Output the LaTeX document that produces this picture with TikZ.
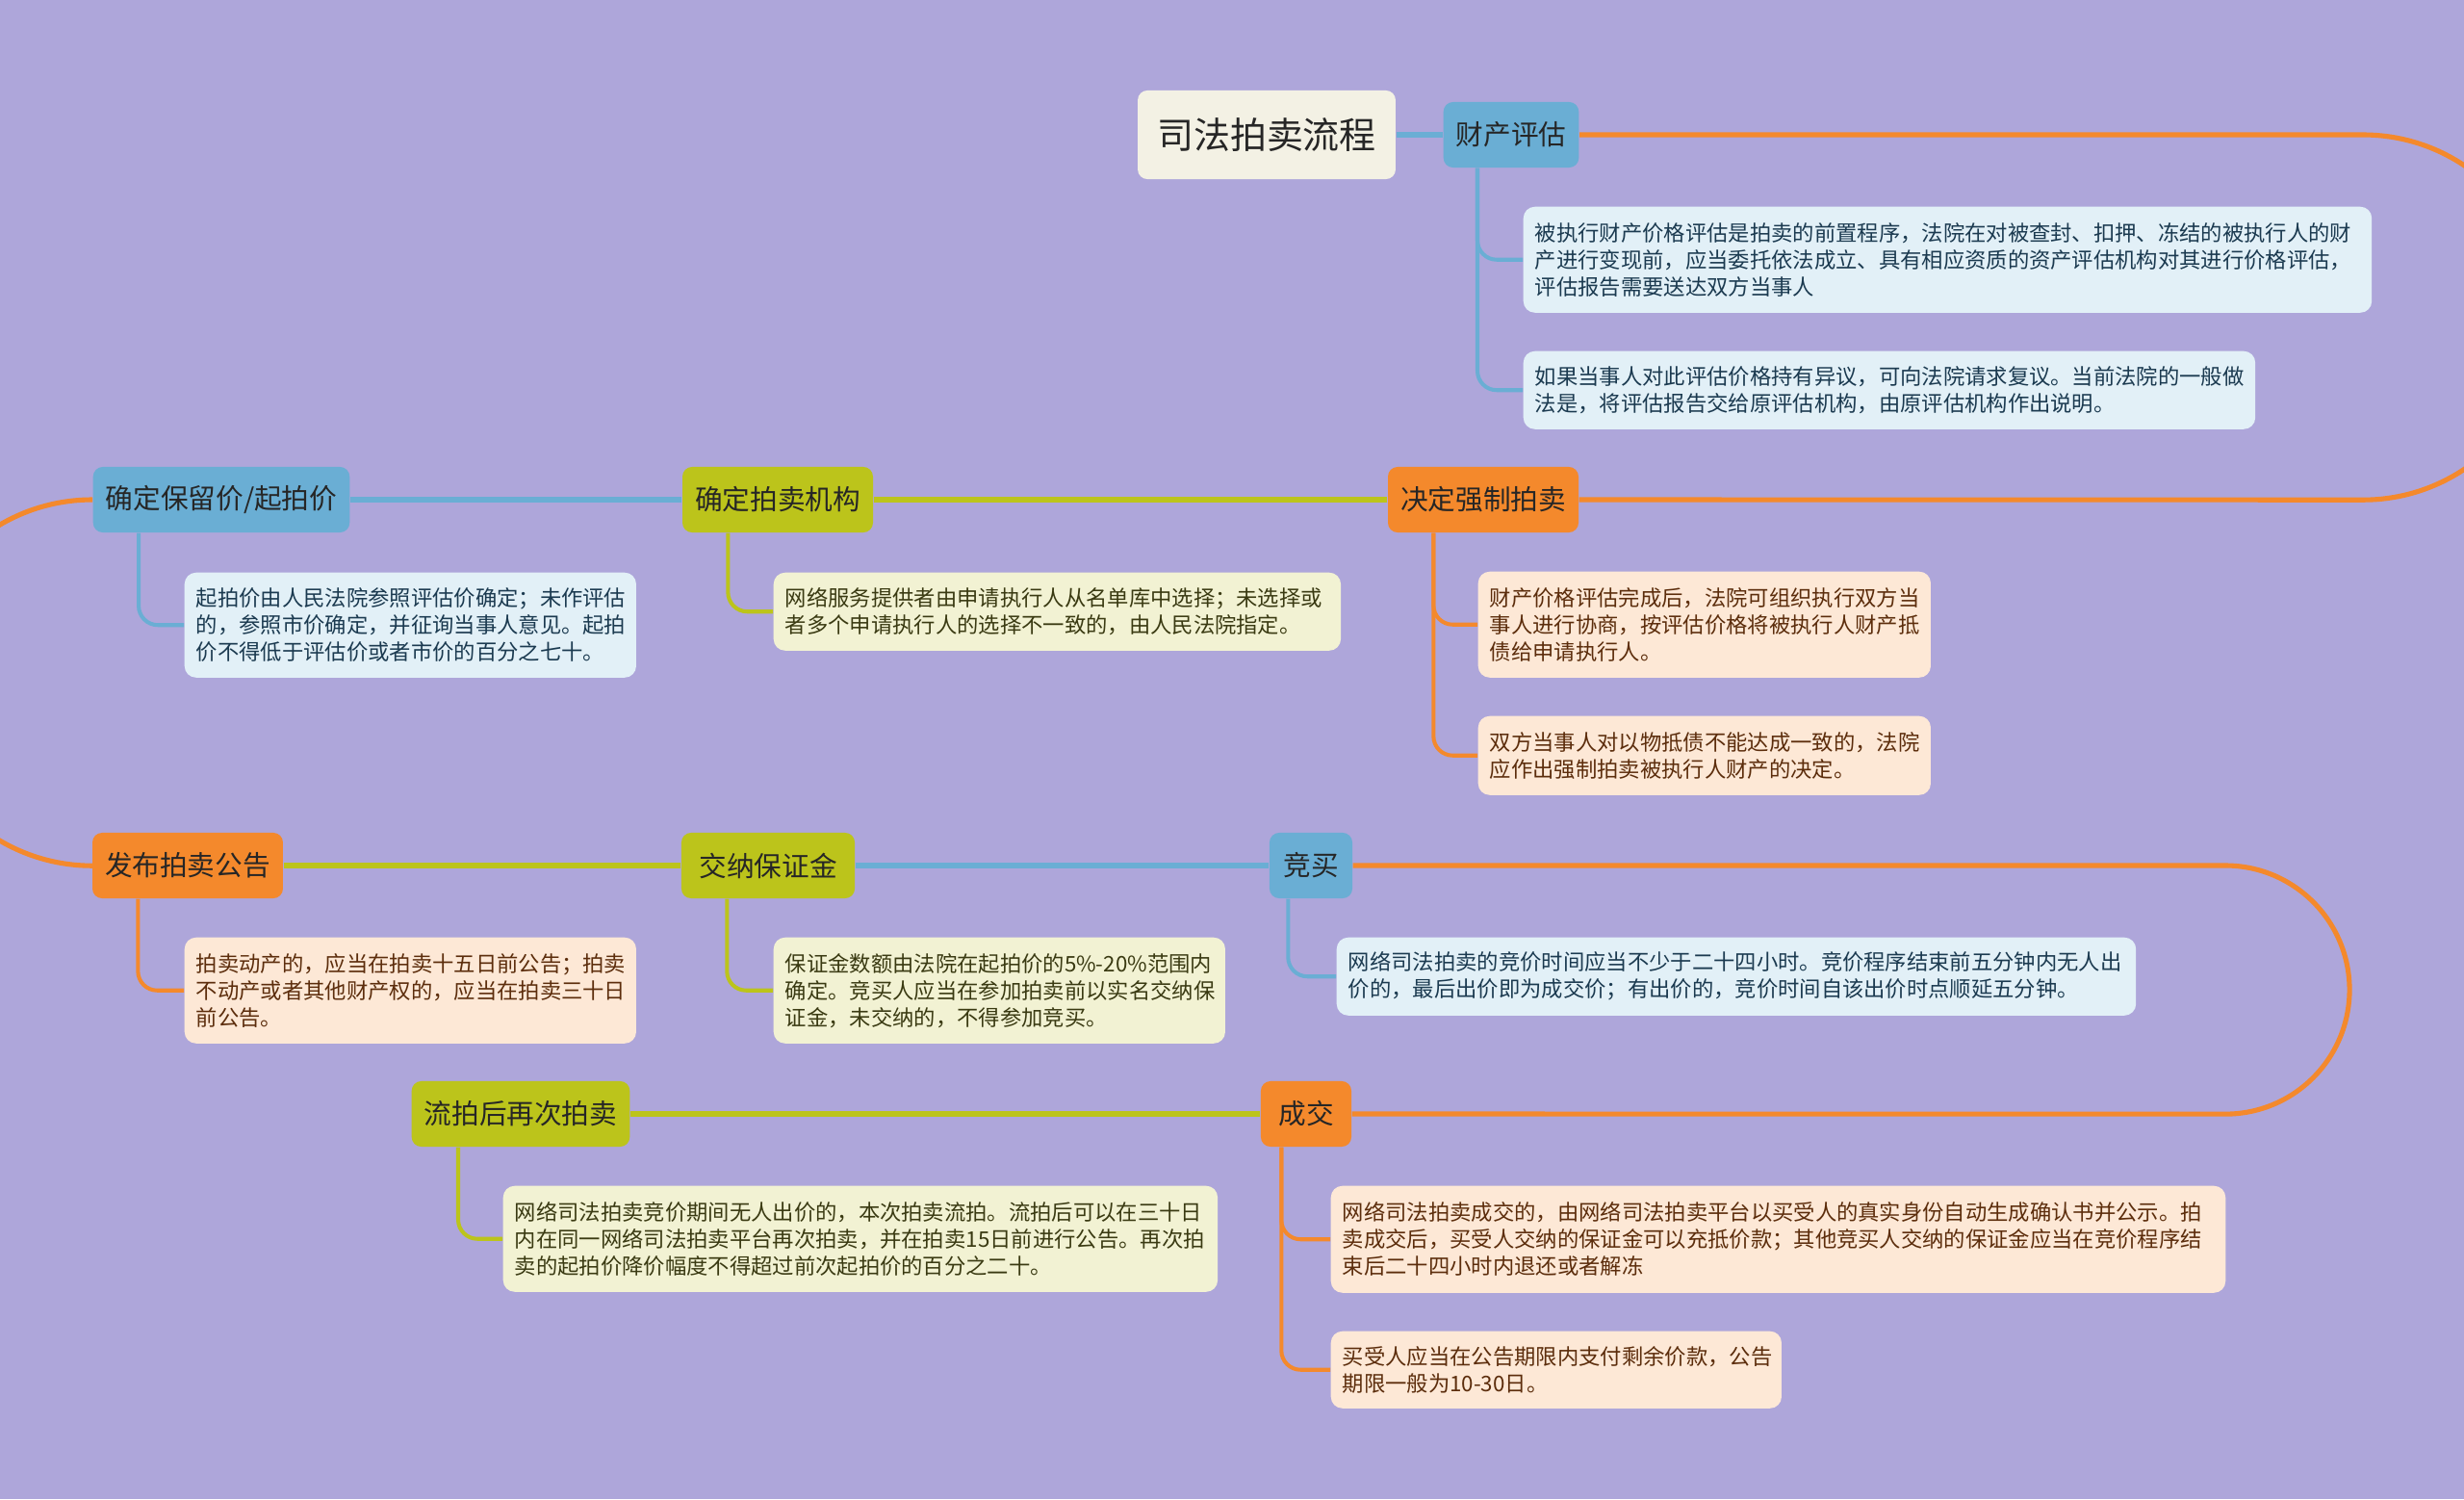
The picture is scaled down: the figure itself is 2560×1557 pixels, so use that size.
\documentclass[tikz,border=0pt]{standalone}
\usepackage{fontspec}
\setmainfont{Noto Sans CJK SC}
\definecolor{bg}{HTML}{AEA6DA}
\definecolor{rootc}{HTML}{F3F1E4}
\definecolor{tb}{HTML}{6AAED4}
\definecolor{tg}{HTML}{BCC41B}
\definecolor{to}{HTML}{F4892C}
\definecolor{db}{HTML}{E2F0F7}
\definecolor{dy}{HTML}{F2F2D3}
\definecolor{dp}{HTML}{FDE8D6}
\definecolor{dbt}{HTML}{1B3A50}
\definecolor{dyt}{HTML}{3A3A12}
\definecolor{dpt}{HTML}{5C2D0C}
\begin{document}
\begin{tikzpicture}[x=0.01cm,y=-0.01cm]
\tikzset{topic/.style={rounded corners=0.1cm, inner xsep=0.13cm, minimum height=0.68cm, text=black!85, font=\fontsize{8.15pt}{9pt}\selectfont},
	det/.style={anchor=north west, rounded corners=0.12cm, inner xsep=0.12cm, inner ysep=0pt, align=left, font=\fontsize{6.35pt}{7.97pt}\selectfont},
	ln/.style={line width=1.45pt},
	sl/.style={line width=1.15pt, rounded corners=0.2cm}};
\fill[bg] (0,0) rectangle (2560,1557);
\useasboundingbox (0,0) rectangle (2560,1557);

\node[topic, fill=rootc, minimum height=0.92cm, inner xsep=0.2cm, font=\fontsize{10.8pt}{12pt}\selectfont] (root) at (1316,140) {司法拍卖流程};
\node[topic, fill=tb] (pg) at (1570,140) {财产评估};
\node[topic, fill=tb] (bl) at (230,519) {确定保留价/起拍价};
\node[topic, fill=tg] (jg) at (808,519) {确定拍卖机构};
\node[topic, fill=to] (qz) at (1541,519) {决定强制拍卖};
\node[topic, fill=to] (gg) at (195,899) {发布拍卖公告};
\node[topic, fill=tg, minimum width=1.8cm] (bzj) at (798,899) {交纳保证金};
\node[topic, fill=tb, minimum width=0.86cm] (jm) at (1362,899) {竞买};
\node[topic, fill=to, minimum width=0.94cm] (cj) at (1357,1157) {成交};
\node[topic, fill=tg] (lp) at (541,1157) {流拍后再次拍卖};

\node[det, fill=db, text=dbt, text width=8.57cm, minimum height=1.1cm] (pg1) at (1582,214) {被执行财产价格评估是拍卖的前置程序，法院在对被查封、扣押、冻结的被执行人的财\\产进行变现前，应当委托依法成立、具有相应资质的资产评估机构对其进行价格评估，\\评估报告需要送达双方当事人};
\node[det, fill=db, text=dbt, text width=7.36cm, minimum height=0.81cm] (pg2) at (1582,364) {如果当事人对此评估价格持有异议，可向法院请求复议。当前法院的一般做\\法是，将评估报告交给原评估机构，由原评估机构作出说明。};
\node[det, fill=db, text=dbt, text width=4.45cm, minimum height=1.09cm] (bl1) at (191,594) {起拍价由人民法院参照评估价确定；未作评估\\的，参照市价确定，并征询当事人意见。起拍\\价不得低于评估价或者市价的百分之七十。};
\node[det, fill=dy, text=dyt, text width=5.65cm, minimum height=0.81cm] (jg1) at (803,594) {网络服务提供者由申请执行人从名单库中选择；未选择或\\者多个申请执行人的选择不一致的，由人民法院指定。};
\node[det, fill=dp, text=dpt, text width=4.46cm, minimum height=1.1cm] (qz1) at (1535,593) {财产价格评估完成后，法院可组织执行双方当\\事人进行协商，按评估价格将被执行人财产抵\\债给申请执行人。};
\node[det, fill=dp, text=dpt, text width=4.46cm, minimum height=0.82cm] (qz2) at (1535,743) {双方当事人对以物抵债不能达成一致的，法院\\应作出强制拍卖被执行人财产的决定。};
\node[det, fill=dp, text=dpt, text width=4.45cm, minimum height=1.1cm] (gg1) at (191,973) {拍卖动产的，应当在拍卖十五日前公告；拍卖\\不动产或者其他财产权的，应当在拍卖三十日\\前公告。};
\node[det, fill=dy, text=dyt, text width=4.45cm, minimum height=1.1cm] (bzj1) at (803,973) {保证金数额由法院在起拍价的5\%-20\%范围内\\确定。竞买人应当在参加拍卖前以实名交纳保\\证金，未交纳的，不得参加竞买。};
\node[det, fill=db, text=dbt, text width=8.06cm, minimum height=0.81cm] (jm1) at (1388,973) {网络司法拍卖的竞价时间应当不少于二十四小时。竞价程序结束前五分钟内无人出\\价的，最后出价即为成交价；有出价的，竞价时间自该出价时点顺延五分钟。};
\node[det, fill=dy, text=dyt, text width=7.18cm, minimum height=1.1cm] (lp1) at (522,1231) {网络司法拍卖竞价期间无人出价的，本次拍卖流拍。流拍后可以在三十日\\内在同一网络司法拍卖平台再次拍卖，并在拍卖15日前进行公告。再次拍\\卖的起拍价降价幅度不得超过前次起拍价的百分之二十。};
\node[det, fill=dp, text=dpt, text width=9.05cm, minimum height=1.11cm] (cj1) at (1382,1231) {网络司法拍卖成交的，由网络司法拍卖平台以买受人的真实身份自动生成确认书并公示。拍\\卖成交后，买受人交纳的保证金可以充抵价款；其他竞买人交纳的保证金应当在竞价程序结\\束后二十四小时内退还或者解冻};
\node[det, fill=dp, text=dpt, text width=4.44cm, minimum height=0.8cm] (cj2) at (1382,1382) {买受人应当在公告期限内支付剩余价款，公告\\期限一般为10-30日。};

\coordinate (r1) at (2455,140);
\coordinate (r2) at (2312,899);
\draw[ln, tb] (root) -- (pg);
\draw[ln, to] (pg.east) -- (r1) arc[start angle=90, end angle=-90, radius=1.895cm] -- (qz.east);
\draw[ln, tg] (qz) -- (jg);
\draw[ln, tb] (jg) -- (bl);
\draw[ln, to] (bl.west) arc[start angle=90, end angle=270, radius=1.9cm] -- (gg.west);
\draw[ln, tg] (gg) -- (bzj);
\draw[ln, tb] (bzj) -- (jm);
\draw[ln, to] (jm.east) -- (r2) arc[start angle=90, end angle=-90, radius=1.29cm] -- (cj.east);
\draw[ln, tg] (cj) -- (lp);

\draw[sl, tb] ([xshift=0.36cm]pg.south west) |- (pg1.west);
\draw[sl, tb] ([xshift=0.36cm]pg.south west) |- (pg2.west);
\draw[sl, tb] ([xshift=0.48cm]bl.south west) |- (bl1.west);
\draw[sl, tg] ([xshift=0.48cm]jg.south west) |- (jg1.west);
\draw[sl, to] ([xshift=0.48cm]qz.south west) |- (qz1.west);
\draw[sl, to] ([xshift=0.48cm]qz.south west) |- (qz2.west);
\draw[sl, to] ([xshift=0.48cm]gg.south west) |- (gg1.west);
\draw[sl, tg] ([xshift=0.48cm]bzj.south west) |- (bzj1.west);
\draw[sl, tb] ([xshift=0.2cm]jm.south west) |- (jm1.west);
\draw[sl, tg] ([xshift=0.49cm]lp.south west) |- (lp1.west);
\draw[sl, to] ([xshift=0.22cm]cj.south west) |- (cj1.west);
\draw[sl, to] ([xshift=0.22cm]cj.south west) |- (cj2.west);
\end{tikzpicture}
\end{document}
